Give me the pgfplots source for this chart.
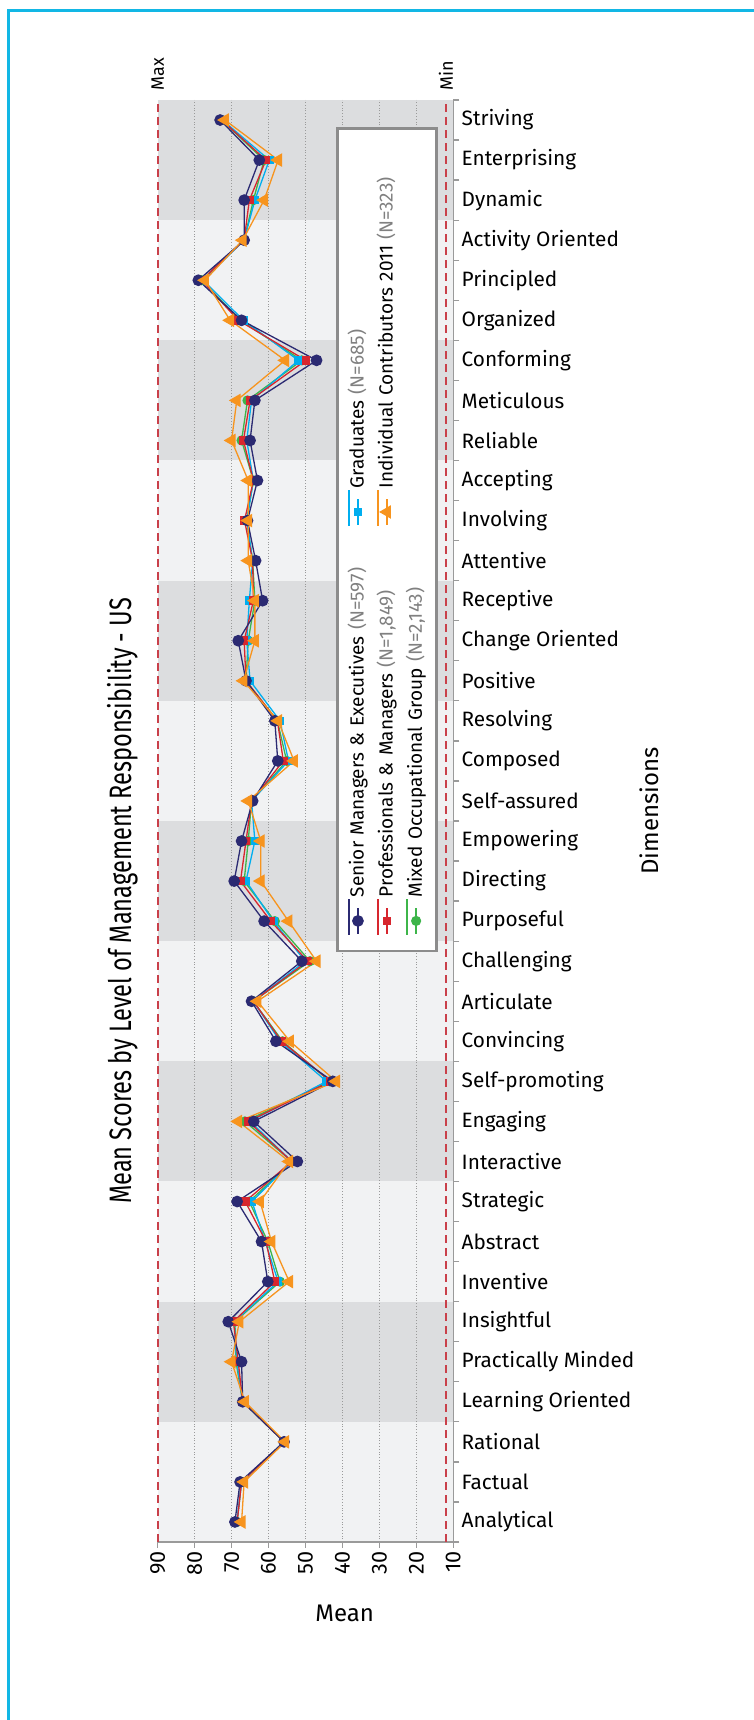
\documentclass[border=0pt]{standalone}
\usepackage{fontspec}
\setmainfont{Fira Sans}
\newfontfamily\titlefont[FakeStretch=0.76]{Fira Sans}
\usepackage{pgfplots}
\usepackage{pgfplotstable}
\pgfplotsset{compat=1.18}

\definecolor{sme}{HTML}{2B2A72}
\definecolor{pm}{HTML}{D7262E}
\definecolor{mog}{HTML}{3DB54A}
\definecolor{grad}{HTML}{00AEEF}
\definecolor{ic}{HTML}{F7941E}
\definecolor{maxmin}{HTML}{C9404A}
\definecolor{banddark}{HTML}{DCDDDF}
\definecolor{bandlight}{HTML}{F1F2F3}
\definecolor{axisgray}{HTML}{9A9A9A}
\definecolor{legendgray}{HTML}{8C8C8C}
\definecolor{framecyan}{HTML}{12B7E5}

% mean scores, categories 0 = Analytical ... 35 = Striving
\pgfplotstableread{
idx sme  pm   mog  grad ic
0   69.1 68.5 68.5 68.6 67.3
1   67.7 67.3 67.3 67.3 66.6
2   55.8 55.8 55.8 55.8 55.5
3   67.0 67.0 67.0 67.0 66.4
4   67.3 68.2 68.8 68.6 70.0
5   70.9 69.5 69.1 69.3 67.9
6   60.2 58.3 56.9 57.4 54.4
7   61.9 60.7 60.2 60.9 59.2
8   68.5 66.3 65.2 64.5 62.3
9   52.2 53.7 53.7 53.7 54.4
10  64.0 65.5 66.4 65.0 68.2
11  42.6 43.2 43.4 44.3 41.7
12  58.0 56.5 56.2 56.9 54.2
13  64.6 64.1 64.1 64.1 63.0
14  51.0 49.4 48.8 50.1 47.0
15  61.2 59.4 58.3 58.7 54.6
16  69.3 67.6 66.6 66.1 62.1
17  67.3 66.1 65.5 63.7 62.1
18  64.3 64.6 64.6 64.6 65.5
19  57.5 56.0 55.1 54.6 53.1
20  58.3 57.6 57.6 56.9 57.4
21  66.1 66.1 66.1 65.0 66.8
22  68.2 66.6 65.5 65.9 63.7
23  61.6 64.1 63.7 65.2 63.7
24  63.5 64.3 64.3 64.3 65.5
25  65.7 66.5 65.9 65.9 65.5
26  63.0 64.1 64.1 64.1 65.5
27  65.0 66.8 67.3 65.9 70.0
28  63.7 65.0 65.7 64.6 68.6
29  47.0 49.9 51.0 51.9 55.5
30  67.3 68.2 67.7 66.8 70.4
31  79.0 78.1 78.1 77.7 77.2
32  66.6 66.6 66.6 66.6 67.0
33  66.6 65.2 64.1 63.7 61.2
34  62.5 60.7 61.2 59.8 57.4
35  73.1 72.7 72.7 72.5 71.8
}\scores

\pgfplotsset{
  smestyle/.style={color=sme, line width=0.65pt, mark=*, mark size=2.6pt, mark options={solid}},
  pmstyle/.style={color=pm, line width=0.65pt, mark=square*, mark size=1.8pt, mark options={solid}},
  mogstyle/.style={color=mog, line width=0.65pt, mark=*, mark size=2.2pt, mark options={solid}},
  gradstyle/.style={color=grad, line width=0.65pt, mark=square*, mark size=1.8pt, mark options={solid}},
  icstyle/.style={color=ic, line width=0.65pt, mark=triangle*, mark size=3.3pt, mark options={solid, rotate=90}},
  limitline/.style={draw=maxmin, mark=none, line width=0.8pt, dash pattern=on 4pt off 2.5pt,
    forget plot, on layer=axis foreground},
}

\begin{document}
\begin{tikzpicture}
\path (0,0) rectangle (377pt,860pt);
\draw[framecyan, line width=1.3pt] (4.2pt,0pt) -- (4.2pt,854.65pt) -- (377pt,854.65pt);
\node[rotate=90, anchor=base, font=\titlefont\fontsize{15.5}{18}\selectfont] at (65.85pt,409.5pt)
  {Mean Scores by Level of Management Responsibility - US};
\node[font=\fontsize{12}{14}\selectfont] at (172.35pt,53.3pt) {Mean};
\node[rotate=90, font=\fontsize{12}{14}\selectfont] at (324.5pt,454.5pt) {Dimensions};

\begin{axis}[
  at={(78.85pt,89pt)}, anchor=south west,
  scale only axis, width=147.8pt, height=721pt,
  set layers, clip=false,
  x dir=reverse,
  xmin=10, xmax=90, ymin=-0.5, ymax=35.5,
  axis x line*=bottom, axis y line*=right,
  axis line style={-, draw=axisgray, line width=0.65pt},
  tick align=outside,
  major tick length=3pt,
  minor tick length=0pt,
  tick style={axisgray, line width=0.65pt},
  ytick={-0.5,0.5,...,35.5},
  y tick label as interval,
  yticklabels={Analytical,Factual,Rational,Learning Oriented,Practically Minded,Insightful,
    Inventive,Abstract,Strategic,Interactive,Engaging,Self-promoting,Convincing,Articulate,
    Challenging,Purposeful,Directing,Empowering,Self-assured,Composed,Resolving,Positive,
    Change Oriented,Receptive,Attentive,Involving,Accepting,Reliable,Meticulous,Conforming,
    Organized,Principled,Activity Oriented,Dynamic,Enterprising,Striving},
  yticklabel style={anchor=west, inner sep=0pt, font=\fontsize{10.4}{12}\selectfont},
  yticklabel shift=1pt,
  xtick={10,20,...,90},
  minor xtick={20,30,...,80},
  /pgf/number format/assume math mode=true,
  xticklabel={\pgfmathprintnumber{\tick}},
  xticklabel style={rotate=90, anchor=east, inner sep=0pt, font=\fontsize{10.8}{12}\selectfont},
  xticklabel shift=1.5pt,
  xminorgrids,
  minor grid style={densely dotted, axisgray, line width=0.45pt},
  legend columns=3,
  legend cell align=left,
  legend style={at={(0.6032,0.9813)}, anchor=north west, draw=legendgray, line width=1.3pt,
    fill=white, inner xsep=5.5pt, inner ysep=8pt, row sep=13.5pt,
    font=\fontsize{9.5}{11}\selectfont,
    nodes={rotate=90, inner sep=0pt, text height=7pt, text depth=2pt, text width=172pt, align=left},
    /tikz/every odd column/.append style={column sep=0pt},
    /tikz/every even column/.append style={column sep=4.9pt}},
  legend image code/.code={%
    \path (0pt,-18pt) -- (0pt,0pt);
    \draw[overlay, mark repeat=2, mark phase=2, #1]
      plot coordinates {(4.5pt,-17.7pt) (4.5pt,-11.2pt) (4.5pt,-4.7pt)};},
]
\begin{pgfonlayer}{axis background}
\fill[bandlight] (axis cs:10,-0.5) rectangle (axis cs:90,35.5);
\fill[banddark] (axis cs:10,2.5) rectangle (axis cs:90,5.5);
\fill[banddark] (axis cs:10,8.5) rectangle (axis cs:90,11.5);
\fill[banddark] (axis cs:10,14.5) rectangle (axis cs:90,17.5);
\fill[banddark] (axis cs:10,20.5) rectangle (axis cs:90,23.5);
\fill[banddark] (axis cs:10,26.5) rectangle (axis cs:90,29.5);
\fill[banddark] (axis cs:10,32.5) rectangle (axis cs:90,35.5);
\end{pgfonlayer}

\addplot[limitline] coordinates {(90,-0.5) (90,35.5)};
\addplot[limitline] coordinates {(12,-0.5) (12,35.5)};
\node[rotate=90, anchor=west, inner sep=0pt, font=\fontsize{9}{10}\selectfont] at (axis cs:90,35.72) {Max};
\node[rotate=90, anchor=west, inner sep=0pt, font=\fontsize{9}{10}\selectfont] at (axis cs:12,35.72) {Min};

\addplot[mogstyle, forget plot] table[x=mog, y=idx] {\scores};
\addplot[gradstyle, forget plot] table[x=grad, y=idx] {\scores};
\addplot[pmstyle, forget plot] table[x=pm, y=idx] {\scores};
\addplot[smestyle, forget plot] table[x=sme, y=idx] {\scores};
\addplot[icstyle, forget plot] table[x=ic, y=idx] {\scores};

\addlegendimage{gradstyle}
\addlegendentry{Graduates \textcolor{gray}{(N=685)}}
\addlegendimage{icstyle}
\addlegendentry{Individual Contributors 2011 \textcolor{gray}{(N=323)}}
\addlegendimage{empty legend}
\addlegendentry{}
\addlegendimage{smestyle}
\addlegendentry{Senior Managers \& Executives \textcolor{gray}{(N=597)}}
\addlegendimage{pmstyle}
\addlegendentry{Professionals \& Managers \textcolor{gray}{(N=1,849)}}
\addlegendimage{mogstyle}
\addlegendentry{Mixed Occupational Group \textcolor{gray}{(N=2,143)}}
\end{axis}
\pgfresetboundingbox
\path[use as bounding box] (0,0) rectangle (377pt,860pt);
\end{tikzpicture}
\end{document}
